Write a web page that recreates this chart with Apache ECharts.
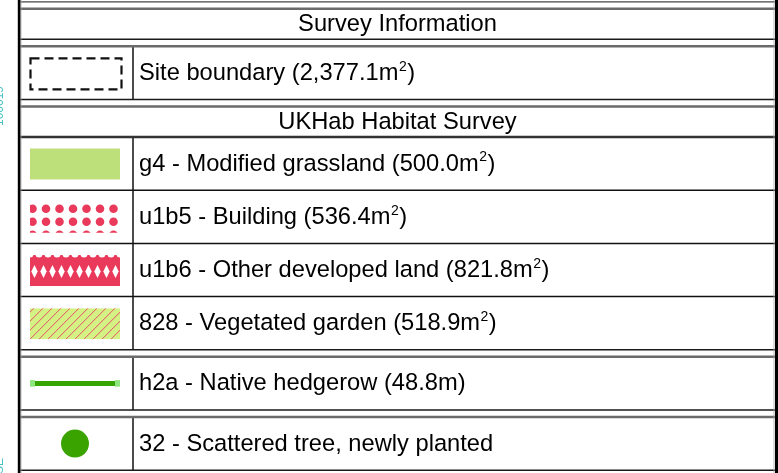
<!DOCTYPE html>
<html>
<head>
<meta charset="utf-8">
<script src="https://cdn.jsdelivr.net/npm/echarts@6/dist/echarts.min.js"></script>
<style>
    html, body { margin: 0; padding: 0; background: #fff; }
    #chart { width: 778px; height: 473px; }
</style>
</head>
<body>
<div id="chart"></div>
<script>
// --- Legend content ---
const sectionTitles = ['Survey Information', 'UKHab Habitat Survey'];
const itemNames = [
    'Site boundary',
    'g4 - Modified grassland',
    'u1b5 - Building',
    'u1b6 - Other developed land',
    '828 - Vegetated garden',
    'h2a - Native hedgerow',
    '32 - Scattered tree, newly planted'
];
const itemAmounts = [2377.1, 500.0, 536.4, 821.8, 518.9, 48.8, null];
const itemUnits = ['m2', 'm2', 'm2', 'm2', 'm2', 'm', ''];
const itemSymbols = ['boundary', 'fill', 'dots', 'diamonds', 'hatch', 'line', 'circle'];
const itemSections = [0, 1, 1, 1, 1, 1, 1];
const itemGroups = [0, 1, 1, 1, 1, 2, 3];

// --- Layout (pixels) ---
const TOP = 1.8, GAP = 7, HEADER_H = 30.5, ROW_H = 53.2;
const HEADER_GAP = [true, false];
const LEFT = 20, RIGHT = 775, COL_X = 133, TEXT_X = 139;
const SW_X = 30, SW_W = 90, SW_H = 31;
const FONT = '"Liberation Sans", Arial, sans-serif';
const MAIN_FONT = '23.7px ' + FONT, SUP_FONT = '14px ' + FONT;
const RED = '#ea3a5b';

const measureCtx = document.createElement('canvas').getContext('2d');
function textWidth(str, font) {
    measureCtx.font = font;
    return measureCtx.measureText(str).width;
}

function buildBands() {
    const out = [];
    let y = TOP;
    const push = (type, h, ref) => { out.push({ type, y0: y, y1: y + h, ref }); y += h; };
    push('gap', GAP);
    let prevSection = null, prevGroup = null;
    itemNames.forEach((name, i) => {
        if (itemSections[i] !== prevSection) {
            if (prevSection !== null) push('gap', GAP);
            push('header', HEADER_H, itemSections[i]);
            if (HEADER_GAP[itemSections[i]]) push('gap', GAP);
            prevSection = itemSections[i];
        } else if (itemGroups[i] !== prevGroup) {
            push('gap', GAP);
        }
        push('item', ROW_H, i);
        prevGroup = itemGroups[i];
    });
    push('gap', GAP);
    return out;
}
const bands = buildBands();

// label split into [before superscript, superscript, after]
function labelParts(i) {
    if (itemAmounts[i] == null) return [itemNames[i], '', ''];
    const num = itemAmounts[i].toLocaleString('en-US', { minimumFractionDigits: 1, maximumFractionDigits: 1 });
    if (itemUnits[i] === 'm2') return [itemNames[i] + ' (' + num + 'm', '2', ')'];
    return [itemNames[i] + ' (' + num + itemUnits[i] + ')', '', ''];
}

function ruleStyle(prev, cur) {
    if (prev.type === 'gap') return { stroke: '#6b6b6b', lineWidth: 2.5 };
    if (cur.type === 'gap') return { stroke: '#1a1a1a', lineWidth: 1.5 };
    if (prev.type === 'header') return { stroke: '#333', lineWidth: 2.5 };
    return { stroke: '#111', lineWidth: 1.5 };
}

function symbolShapes(kind, top, cy) {
    const clip = { type: 'rect', shape: { x: SW_X, y: top, width: SW_W, height: SW_H } };
    const kids = [];
    if (kind === 'boundary') {
        kids.push({ type: 'rect', shape: { x: SW_X + 0.5, y: top + 0.5, width: SW_W + 1, height: SW_H },
            style: { fill: null, stroke: '#111', lineWidth: 2.2, lineDash: [9, 5] } });
    } else if (kind === 'fill') {
        kids.push({ type: 'rect', shape: { x: SW_X, y: top, width: SW_W, height: SW_H }, style: { fill: '#bde07a' } });
    } else if (kind === 'dots') {
        for (let r = 0; r < 3; r++) {
            for (let c = 0; c < 7; c++) {
                kids.push({ type: 'circle', shape: { cx: SW_X + 2.5 + 13.5 * c, cy: top + 7 + 13 * r, r: 4.3 }, style: { fill: RED } });
            }
        }
        return [{ type: 'group', clipPath: clip, children: kids }];
    } else if (kind === 'diamonds') {
        kids.push({ type: 'rect', shape: { x: SW_X, y: top, width: SW_W, height: SW_H }, style: { fill: RED } });
        for (let k = 0; k <= 10; k++) {
            kids.push({ type: 'circle', shape: { cx: SW_X + 9 * k, cy: top - 1, r: 3.5 }, style: { fill: '#fff' } });
        }
        for (let k = 0; k < 10; k++) {
            const x = SW_X + 4.5 + 9 * k, y = top + 16.5;
            kids.push({ type: 'polygon', shape: { points: [[x, y - 6.5], [x + 3.2, y], [x, y + 6.5], [x - 3.2, y]] }, style: { fill: '#fff' } });
        }
        return [{ type: 'group', clipPath: clip, children: kids }];
    } else if (kind === 'hatch') {
        kids.push({ type: 'rect', shape: { x: SW_X, y: top, width: SW_W, height: SW_H }, style: { fill: '#d4f183' } });
        for (let k = -4; k < 12; k++) {
            const x = SW_X + 9 * k;
            kids.push({ type: 'line', shape: { x1: x, y1: top + SW_H, x2: x + SW_H, y2: top }, style: { stroke: '#e8506a', lineWidth: 1 } });
        }
        return [{ type: 'group', clipPath: clip, children: kids }];
    } else if (kind === 'line') {
        kids.push({ type: 'rect', shape: { x: SW_X, y: cy - 3.3, width: 5, height: 6.6 }, style: { fill: '#8fe57e' } });
        kids.push({ type: 'rect', shape: { x: SW_X + SW_W - 5, y: cy - 3.3, width: 5, height: 6.6 }, style: { fill: '#8fe57e' } });
        kids.push({ type: 'rect', shape: { x: SW_X + 5, y: cy - 2.5, width: SW_W - 10, height: 5 }, style: { fill: '#36a500' } });
    } else if (kind === 'circle') {
        kids.push({ type: 'circle', shape: { cx: SW_X + SW_W / 2, cy: cy, r: 14 }, style: { fill: '#3ba300' } });
    }
    return kids;
}

function renderBand(params, api) {
    const k = params.dataIndex;
    const b = bands[k];
    const cy = (b.y0 + b.y1) / 2;
    const children = [];
    if (b.type === 'header') {
        children.push({ type: 'text', style: {
            text: sectionTitles[b.ref], x: (LEFT + RIGHT) / 2, y: cy + 0.5,
            align: 'center', verticalAlign: 'middle', fill: '#000', font: MAIN_FONT } });
    } else if (b.type === 'item') {
        const i = b.ref;
        symbolShapes(itemSymbols[i], cy - SW_H / 2 + 0.5, cy).forEach(s => children.push(s));
        children.push({ type: 'line', shape: { x1: COL_X, y1: b.y0, x2: COL_X, y2: b.y1 }, style: { stroke: '#111', lineWidth: 1.5 } });
        const [before, sup, after] = labelParts(i);
        let x = TEXT_X;
        children.push({ type: 'text', style: { text: before, x: x, y: cy + 0.5, verticalAlign: 'middle', fill: '#000', font: MAIN_FONT } });
        if (sup) {
            x += textWidth(before, MAIN_FONT) + 0.5;
            children.push({ type: 'text', style: { text: sup, x: x, y: cy - 6, verticalAlign: 'middle', fill: '#000', font: SUP_FONT } });
            x += textWidth(sup, SUP_FONT) + 0.5;
            children.push({ type: 'text', style: { text: after, x: x, y: cy + 0.5, verticalAlign: 'middle', fill: '#000', font: MAIN_FONT } });
        }
    }
    // rule on top of the band
    const rs = k === 0 ? { stroke: '#444', lineWidth: 1.2 } : ruleStyle(bands[k - 1], b);
    children.push({ type: 'line', shape: { x1: LEFT, y1: b.y0, x2: RIGHT, y2: b.y0 }, style: rs });
    return { type: 'group', children };
}

const chart = echarts.init(document.getElementById('chart'), null, { renderer: 'canvas' });
chart.setOption({
    backgroundColor: '#fff',
    animation: false,
    series: [{
        type: 'custom',
        coordinateSystem: 'none',
        renderItem: renderBand,
        data: bands.map((b, i) => [i]),
        silent: true
    }],
    graphic: [
        { type: 'line', shape: { x1: 19.2, y1: 0, x2: 19.2, y2: 473 }, style: { stroke: '#000', lineWidth: 2.8 }, z: 10 },
        { type: 'line', shape: { x1: 21, y1: 0, x2: 21, y2: 473 }, style: { stroke: '#aaa', lineWidth: 0.8 }, z: 10 },
        { type: 'line', shape: { x1: 776.5, y1: 0, x2: 776.5, y2: 473 }, style: { stroke: '#000', lineWidth: 3 }, z: 10 },
        { type: 'line', shape: { x1: 774, y1: 0, x2: 774, y2: 473 }, style: { stroke: '#aaa', lineWidth: 0.8 }, z: 10 },
        { type: 'text', x: 0, y: 106, rotation: Math.PI / 2,
          style: { text: '100019', fill: '#45c0c4', font: '12px ' + FONT, align: 'center', verticalAlign: 'middle' } },
        { type: 'text', x: 0, y: 466, rotation: Math.PI / 2,
          style: { text: 'SE', fill: '#45c0c4', font: '12px ' + FONT, align: 'center', verticalAlign: 'middle' } }
    ]
});
</script>
</body>
</html>
